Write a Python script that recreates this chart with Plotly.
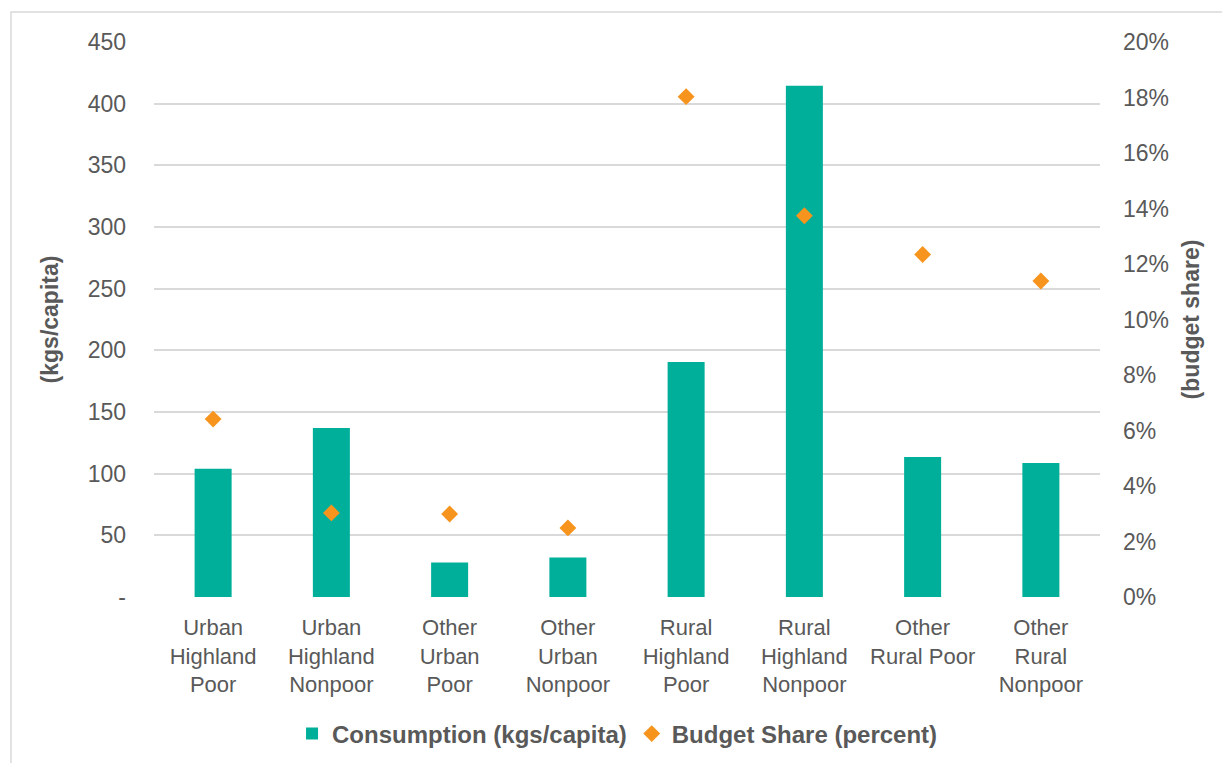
import plotly.graph_objects as go

categories = [
    "Urban<br>Highland<br>Poor",
    "Urban<br>Highland<br>Nonpoor",
    "Other<br>Urban<br>Poor",
    "Other<br>Urban<br>Nonpoor",
    "Rural<br>Highland<br>Poor",
    "Rural<br>Highland<br>Nonpoor",
    "Other<br>Rural Poor",
    "Other<br>Rural<br>Nonpoor",
]
consumption = [104, 137, 28, 32, 190.5, 414.5, 113.5, 108.6]
budget_share = [0.0641, 0.0303, 0.0299, 0.0249, 0.1803, 0.1374, 0.1234, 0.1139]

left_ticks = [0, 50, 100, 150, 200, 250, 300, 350, 400, 450]
left_ticktext = ["-", "50", "100", "150", "200", "250", "300", "350", "400", "450"]
right_ticks = [0, 0.02, 0.04, 0.06, 0.08, 0.10, 0.12, 0.14, 0.16, 0.18, 0.20]

TEAL = "#00AF9A"
ORANGE = "#F7941D"
TXT = "#595959"
GRID = "#D9D9D9"
FONT = "Liberation Sans, Arial, sans-serif"

fig = go.Figure()
fig.add_trace(go.Bar(
    x=categories, y=consumption, name="Consumption (kgs/capita)",
    marker=dict(color=TEAL, line=dict(width=0)), yaxis="y",
))
fig.add_trace(go.Scatter(
    x=categories, y=budget_share, name="Budget Share (percent)",
    mode="markers", marker=dict(symbol="diamond", size=13, color=ORANGE),
    yaxis="y2",
))

W, H = 1222, 763
L, R, T, B = 154, 122, 42, 166
pw, ph = W - L - R, H - T - B

fig.update_layout(
    width=W, height=H,
    margin=dict(l=L, r=R, t=T, b=B, pad=0, autoexpand=False),
    paper_bgcolor="white", plot_bgcolor="white",
    font=dict(family=FONT, size=23, color=TXT),
    bargap=0.687,
    showlegend=True,
    legend=dict(
        orientation="h", x=0.49, xanchor="center", y=(0 - 137) / ph, yanchor="middle",
        font=dict(family=FONT, size=24, color=TXT, weight="bold"),
        itemwidth=30, traceorder="normal",
    ),
    xaxis=dict(
        showgrid=False, zeroline=False, showline=False, ticks="", automargin=False,
        tickfont=dict(size=22, color=TXT), ticklabelstandoff=15,
    ),
    yaxis=dict(
        range=[0, 450], tickvals=left_ticks, ticktext=left_ticktext,
        showgrid=True, gridcolor=GRID, gridwidth=1.5, zeroline=False,
        showline=False, ticks="", ticklabelstandoff=27, automargin=False,
        tickfont=dict(size=23, color=TXT),
        title=dict(text="(kgs/capita)", standoff=22,
                   font=dict(size=23, color=TXT, weight="bold")),
    ),
    yaxis2=dict(
        range=[0, 0.20], tickvals=right_ticks, tickformat=".0%",
        overlaying="y", side="right", showgrid=False, zeroline=False,
        showline=False, ticks="", ticklabelstandoff=22, automargin=False,
        tickfont=dict(size=23, color=TXT),
        title=dict(text="(budget share)", standoff=14,
                   font=dict(size=23, color=TXT, weight="bold")),
    ),
)

# outer chart border (extends past right/bottom edges)
fig.add_shape(
    type="rect", xref="paper", yref="paper",
    x0=(11 - L) / pw, x1=(W + 5 - L) / pw,
    y0=-(H + 5 - T - ph) / ph, y1=(ph + T - 12) / ph,
    line=dict(color=GRID, width=1.5), fillcolor="rgba(0,0,0,0)", layer="below",
)

fig.write_html("out.html")
